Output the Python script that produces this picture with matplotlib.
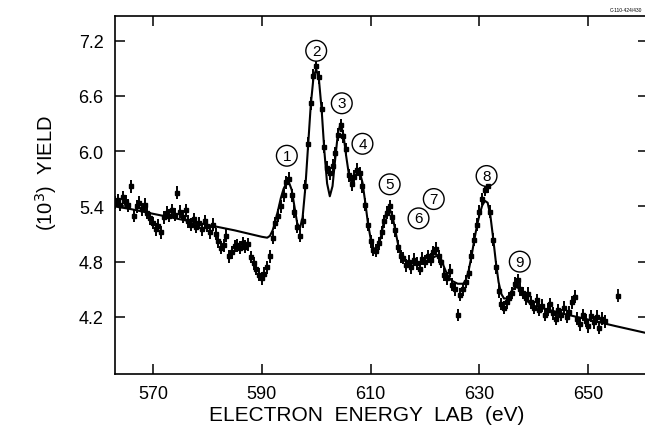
import numpy as np
import matplotlib
matplotlib.use("Agg")
from matplotlib import pyplot as plt

plt.rcParams['font.family'] = ['Liberation Sans', 'DejaVu Sans']

# measured spectrum, 0.5 eV steps from 563 eV
e_start = 563.0
e_step = 0.5
yield_data = [
    5.44, 5.47, 5.42, 5.50, 5.45, 5.41, 5.62, 5.30, 5.40, 5.44,
    5.37, 5.42, 5.33, 5.27, 5.22, 5.15, 5.19, 5.12, 5.28, 5.33,
    5.30, 5.36, 5.31, 5.55, 5.34, 5.29, 5.36, 5.24, 5.20, 5.26,
    5.18, 5.22, 5.15, 5.24, 5.19, 5.12, 5.20, 5.10, 5.02, 4.95,
    4.98, 5.08, 4.86, 4.90, 4.97, 4.98, 4.95, 5.00, 4.96, 4.99,
    4.85, 4.78, 4.72, 4.66, 4.62, 4.67, 4.74, 4.86, 5.06, 5.22,
    5.30, 5.40, 5.52, 5.66, 5.70, 5.52, 5.34, 5.18, 5.08, 5.24,
    5.62, 6.08, 6.52, 6.82, 6.92, 6.80, 6.46, 6.05, 5.82, 5.76,
    5.84, 5.98, 6.18, 6.28, 6.16, 6.02, 5.74, 5.64, 5.72, 5.80,
    5.76, 5.62, 5.42, 5.20, 5.02, 4.93, 4.92, 5.00, 5.12, 5.24,
    5.33, 5.40, 5.28, 5.14, 4.96, 4.86, 4.84, 4.76, 4.80, 4.74,
    4.82, 4.78, 4.72, 4.83, 4.80, 4.86, 4.82, 4.90, 4.94, 4.86,
    4.80, 4.66, 4.62, 4.70, 4.55, 4.50, 4.22, 4.44, 4.50, 4.58,
    4.68, 4.86, 5.04, 5.20, 5.34, 5.48, 5.58, 5.62, 5.34, 5.04,
    4.74, 4.48, 4.34, 4.30, 4.36, 4.40, 4.46, 4.56, 4.60, 4.50,
    4.46, 4.40, 4.45, 4.36, 4.30, 4.38, 4.28, 4.32, 4.22, 4.28,
    4.34, 4.24, 4.18, 4.27, 4.22, 4.30, 4.20, 4.25, 4.36, 4.42,
    4.18, 4.12, 4.22, 4.16, 4.10, 4.21, 4.14, 4.20, 4.08, 4.18,
    4.15,
]
yield_err = 0.07
stray_e = [655.5]
stray_y = [4.43]

# fitted curve
fit_e = [563.0, 566.0, 570.0, 575.0, 580.0, 585.0, 590.0, 591.0, 591.5, 592.0,
         592.5, 593.0, 593.5, 594.0, 594.5, 595.0, 595.5, 596.0, 596.5, 597.0,
         597.5, 598.0, 598.5, 599.0, 599.5, 600.0, 600.5, 601.0, 601.5, 602.0,
         602.5, 603.0, 603.5, 604.0, 604.5, 605.0, 605.5, 606.0, 606.5, 607.0,
         607.5, 608.0, 608.5, 609.0, 609.5, 610.0, 610.5, 611.0, 611.5, 612.0,
         612.5, 613.0, 613.5, 614.0, 614.5, 615.0, 615.5, 616.0, 617.0, 618.0,
         619.0, 620.0, 621.0, 622.0, 622.5, 623.0, 623.5, 624.0, 624.5, 625.0,
         626.0, 627.0, 627.5, 628.0, 628.5, 629.0, 629.5, 630.0, 630.5, 631.0,
         631.5, 632.0, 632.5, 633.0, 633.5, 634.0, 634.5, 635.0, 635.5, 636.0,
         636.5, 637.0, 637.5, 638.0, 638.5, 639.0, 640.0, 645.0, 650.0, 655.0,
         661.0]
fit_y = [5.40, 5.37, 5.32, 5.26, 5.20, 5.14, 5.07, 5.06, 5.08, 5.14,
         5.24, 5.36, 5.49, 5.59, 5.65, 5.66, 5.58, 5.40, 5.22, 5.16,
         5.28, 5.60, 6.05, 6.50, 6.80, 6.89, 6.78, 6.45, 6.00, 5.65,
         5.51, 5.62, 5.92, 6.20, 6.30, 6.18, 5.95, 5.75, 5.66, 5.70,
         5.77, 5.77, 5.66, 5.45, 5.22, 5.05, 4.95, 4.93, 4.98, 5.10,
         5.26, 5.35, 5.37, 5.30, 5.15, 5.00, 4.88, 4.82, 4.78, 4.78,
         4.79, 4.80, 4.83, 4.86, 4.86, 4.82, 4.74, 4.67, 4.62, 4.59,
         4.56, 4.56, 4.60, 4.70, 4.85, 5.02, 5.18, 5.31, 5.41, 5.46,
         5.44, 5.30, 5.06, 4.80, 4.58, 4.45, 4.40, 4.40, 4.44, 4.49,
         4.52, 4.52, 4.49, 4.44, 4.39, 4.36, 4.32, 4.24, 4.17, 4.10,
         4.02]

# circled peak labels
peak_labels = ["1", "2", "3", "4", "5", "6", "7", "8", "9"]
label_e = [594.6, 600.0, 604.7, 608.5, 613.5, 618.8, 621.6, 631.3, 637.4]
label_y = [5.95, 7.09, 6.52, 6.08, 5.64, 5.27, 5.48, 5.73, 4.80]

x_ticks = [570, 590, 610, 630, 650]
y_ticks = [4.2, 4.8, 5.4, 6.0, 6.6, 7.2]

data_e = e_start + e_step * np.arange(len(yield_data))

fig = plt.figure(figsize=(6.45, 4.31), dpi=100)
ax = fig.add_axes([0.178, 0.130, 0.827, 0.831])

ax.errorbar(data_e, yield_data, yerr=yield_err, fmt='s', ms=3.3, color='black',
            ecolor='black', elinewidth=1.4, capsize=0, zorder=3)
ax.errorbar(stray_e, stray_y, yerr=yield_err, fmt='s', ms=2.5, color='black',
            elinewidth=1.3, capsize=0)
ax.plot(fit_e, fit_y, color='black', lw=1.5, zorder=4)

for lab, xe, ye in zip(peak_labels, label_e, label_y):
    ax.text(xe, ye, lab, ha='center', va='center', fontsize=11,
            bbox=dict(boxstyle='circle,pad=0.22', fc='white', ec='black', lw=1.0))

ax.set_xlim(563, 661)
ax.set_ylim(3.58, 7.47)
ax.set_xticks(x_ticks)
ax.set_yticks(y_ticks)
ax.set_yticklabels(["%.1f" % v for v in y_ticks])
ax.tick_params(direction='in', length=7, width=1.1, labelsize=13,
               top=True, right=True, pad=8)
for s in ax.spines.values():
    s.set_linewidth(1.2)

fig.text(0.072, 0.598, "(10$^3$)  YIELD", rotation=90, ha='center', va='center',
         fontsize=14.5)
fig.text(0.568, 0.035, "ELECTRON  ENERGY  LAB  (eV)", ha='center', va='center',
         fontsize=15)
fig.text(0.995, 0.975, "C-110-424/430", ha='right', va='center', fontsize=3.5)

fig.savefig("out.png", dpi=100)
